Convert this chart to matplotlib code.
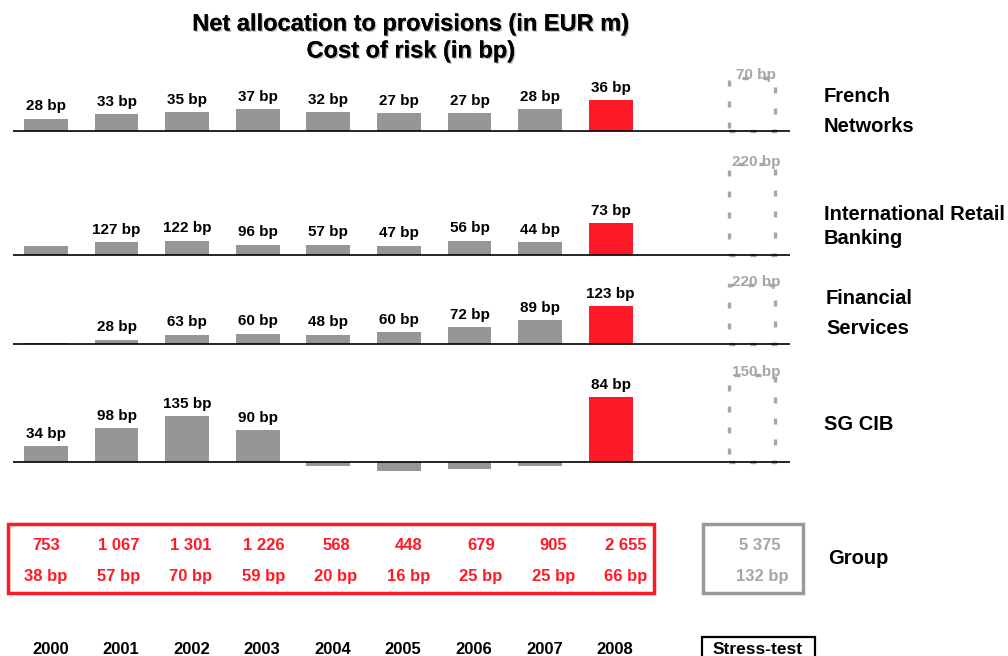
import matplotlib
matplotlib.use("Agg")
import matplotlib.pyplot as plt
import matplotlib.patheffects as pe

plt.rcParams['font.family'] = ['Liberation Sans', 'DejaVu Sans']
plt.rcParams['font.weight'] = 'bold'

# data (EUR m) and cost of risk labels
years = ['2000', '2001', '2002', '2003', '2004', '2005', '2006', '2007', '2008']

fn_vals = [200, 265, 300, 345, 300, 285, 285, 345, 490]
fn_bp = ['28 bp', '33 bp', '35 bp', '37 bp', '32 bp', '27 bp', '27 bp', '28 bp', '36 bp']
fn_stress, fn_stress_bp = 850, '70 bp'

irb_vals = [145, 205, 225, 160, 160, 145, 225, 205, 510]
irb_bp = [None, '127 bp', '122 bp', '96 bp', '57 bp', '47 bp', '56 bp', '44 bp', '73 bp']
irb_stress, irb_stress_bp = 1450, '220 bp'

fs_vals = [15, 65, 145, 160, 145, 190, 270, 380, 605]
fs_bp = [None, '28 bp', '63 bp', '60 bp', '48 bp', '60 bp', '72 bp', '89 bp', '123 bp']
fs_stress, fs_stress_bp = 940, '220 bp'

cib_vals = [255, 540, 730, 510, -65, -145, -110, -65, 1035]
cib_bp = ['34 bp', '98 bp', '135 bp', '90 bp', None, None, None, None, '84 bp']
cib_stress, cib_stress_bp = 1400, '150 bp'

group_vals = ['753', '1 067', '1 301', '1 226', '568', '448', '679', '905', '2 655']
group_bp = ['38 bp', '57 bp', '70 bp', '59 bp', '20 bp', '16 bp', '25 bp', '25 bp', '66 bp']
group_stress = '5 375'
group_stress_bp = '132 bp'

GRAY = '#969696'
RED = '#fe1a26'
LGRAY = '#a6a6a6'
W, H = 1008, 656
SCALE = 16.0  # EUR m per pixel
XL = (-0.467, 10.54)
X0, X1 = 13, 790
STRESS_X = 10

fig = plt.figure(figsize=(W / 100, H / 100), dpi=100)


def add_panel(vals, bps, stress, stress_bp, lines, line_y, name_x, base, top, bottom):
    ax = fig.add_axes([X0 / W, 1 - bottom / H, (X1 - X0) / W, (bottom - top) / H])
    ax.set_xlim(*XL)
    ax.set_ylim(-(bottom - base) * SCALE, (base - top) * SCALE)
    ax.axis('off')
    cols = [GRAY] * (len(vals) - 1) + [RED]
    x = list(range(len(vals)))
    ax.bar(x, vals, width=0.62, color=cols, zorder=2)
    for xi, v, lab in zip(x, vals, bps):
        if lab:
            ax.annotate(lab, (xi, v), xytext=(0, 4), textcoords='offset points',
                        ha='center', va='bottom', fontsize=11, fontweight='bold')
    ax.bar([STRESS_X], [stress], width=0.65, fill=False, edgecolor=LGRAY,
           linestyle=(0, (1.8, 4.5)), linewidth=2.4, zorder=2)
    ax.annotate(stress_bp, (STRESS_X, stress), xytext=(3, -3), textcoords='offset points',
                ha='center', va='bottom', fontsize=11, fontweight='bold', color=LGRAY)
    ax.axhline(0, color='black', linewidth=1.2, zorder=3)
    for ln, ly in zip(lines, line_y):
        fig.text(name_x / W, 1 - ly / H, ln, ha='left', va='center',
                 fontsize=14.5, fontweight='bold')
    return ax


add_panel(fn_vals, fn_bp, fn_stress, fn_stress_bp, ['French', 'Networks'], [97, 126], 824, 131, 60, 135)
add_panel(irb_vals, irb_bp, irb_stress, irb_stress_bp, ['International Retail', 'Banking'], [214, 238], 824,
          255, 140, 258)
add_panel(fs_vals, fs_bp, fs_stress, fs_stress_bp, ['Financial', 'Services'], [299, 328], 826, 344, 262, 348)
add_panel(cib_vals, cib_bp, cib_stress, cib_stress_bp, ['SG CIB'], [424], 824, 462, 352, 480)

# title
shadow = [pe.withSimplePatchShadow(offset=(1, -1), shadow_rgbFace='#b0b0b0', alpha=0.8), pe.Normal()]
fig.text(411 / W, 1 - 24 / H, 'Net allocation to provisions (in EUR m)', ha='center', va='center',
         fontsize=17, fontweight='bold', path_effects=shadow)
fig.text(411 / W, 1 - 51 / H, 'Cost of risk (in bp)', ha='center', va='center',
         fontsize=17, fontweight='bold', path_effects=shadow)

# group row and year labels
axb = fig.add_axes([X0 / W, 0, (X1 - X0) / W, 160 / H])
axb.set_xlim(*XL)
axb.set_ylim(160, 0)  # pixels from y=496 downward
axb.axis('off')
off = 496
gx = [i * 72.5 / 70.6 for i in range(len(group_vals))]
for xi, v, b in zip(gx, group_vals, group_bp):
    axb.text(xi, 546 - off, v, ha='center', va='center', color=RED, fontsize=12, fontweight='bold')
    axb.text(xi, 577 - off, b, ha='center', va='center', color=RED, fontsize=12, fontweight='bold')
for i, y in enumerate(years):
    axb.text(i + 0.06, 649 - off, y, ha='center', va='center', fontsize=12, fontweight='bold')

fig.patches.append(plt.Rectangle((8 / W, 1 - 593 / H), 646 / W, 69 / H, transform=fig.transFigure,
                                 fill=False, edgecolor=RED, linewidth=2.5))
fig.patches.append(plt.Rectangle((703 / W, 1 - 593 / H), 100 / W, 69 / H, transform=fig.transFigure,
                                 fill=False, edgecolor='#999999', linewidth=2.5))
fig.text(760 / W, 1 - 546 / H, group_stress, ha='center', va='center', color=LGRAY,
         fontsize=12, fontweight='bold')
fig.text(762 / W, 1 - 577 / H, group_stress_bp, ha='center', va='center', color=LGRAY,
         fontsize=12, fontweight='bold')
fig.text(828 / W, 1 - 558 / H, 'Group', ha='left', va='center', fontsize=14.5, fontweight='bold')

fig.patches.append(plt.Rectangle((702 / W, -10 / H), 113 / W, 29 / H, transform=fig.transFigure,
                                 fill=False, edgecolor='black', linewidth=1.6))
fig.text(758 / W, 1 - 650 / H, 'Stress-test', ha='center', va='center', fontsize=12.5,
         fontweight='bold')

fig.savefig('out.png', dpi=100)
